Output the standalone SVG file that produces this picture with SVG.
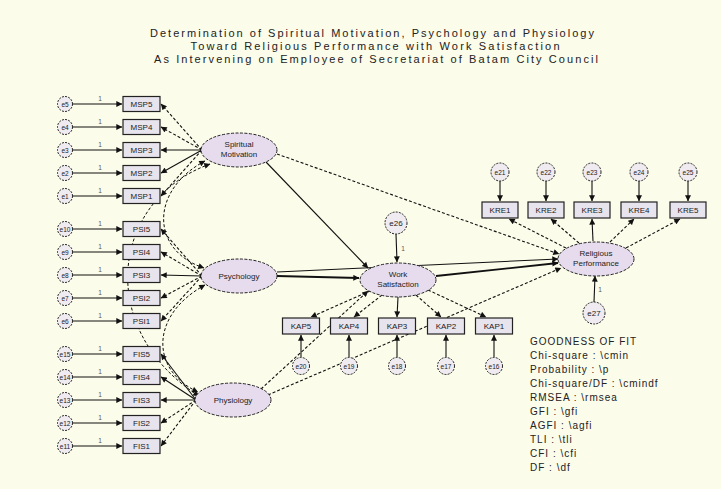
<svg xmlns="http://www.w3.org/2000/svg" width="721" height="489" viewBox="0 0 721 489">
<defs>
<marker id="ah" viewBox="0 0 10 10" refX="9.5" refY="5" markerWidth="7" markerHeight="6" markerUnits="userSpaceOnUse" orient="auto-start-reverse"><path d="M0,0 L10,5 L0,10 z" fill="#111"/></marker>
</defs>
<style>
text{font-family:"Liberation Sans",Arial,sans-serif;fill:#222}
.ttl{font-size:11px;text-anchor:middle}
.lbl{font-size:8px;text-anchor:middle}
.el{font-size:6.5px;text-anchor:middle}
.sm{font-size:6.5px;text-anchor:middle;fill:#555}
.fit{font-size:10px;letter-spacing:1px}
.err{fill:#efebf1;stroke:#222;stroke-width:1;stroke-dasharray:2 1.2}
.box{fill:#e8e4ed;stroke:#222;stroke-width:1.2}
.lat{fill:#e6dcee;stroke:#222;stroke-width:1;stroke-dasharray:3 1.5}
.c{stroke:#111;stroke-width:1.1;fill:none;marker-end:url(#ah)}
.d{stroke-dasharray:3 2}
.k{stroke-width:1.8}
.cov{stroke:#111;stroke-width:1;fill:none;stroke-dasharray:3 2;marker-start:url(#ah);marker-end:url(#ah)}
</style>
<rect width="721" height="489" fill="#fcfcea"/>
<g id="title">
<text class="ttl" x="372" y="37" textLength="444" lengthAdjust="spacing">Determination of Spiritual Motivation, Psychology and Physiology</text>
<text class="ttl" x="375" y="50" textLength="369" lengthAdjust="spacing">Toward Religious Performance with Work Satisfaction</text>
<text class="ttl" x="376" y="63" textLength="444" lengthAdjust="spacing">As Intervening on Employee of Secretariat of Batam City Council</text>
</g>
<g id="connectors">
<g class="errarrows">
<line class="c" x1="73" y1="104" x2="122" y2="104"/><line class="c" x1="73" y1="127" x2="122" y2="127"/><line class="c" x1="73" y1="150" x2="122" y2="150"/><line class="c" x1="73" y1="173" x2="122" y2="173"/><line class="c" x1="73" y1="196" x2="122" y2="196"/>
<line class="c" x1="73" y1="229" x2="122" y2="229"/><line class="c" x1="73" y1="252" x2="122" y2="252"/><line class="c" x1="73" y1="275" x2="122" y2="275"/><line class="c" x1="73" y1="298" x2="122" y2="298"/><line class="c" x1="73" y1="321" x2="122" y2="321"/>
<line class="c" x1="73" y1="354" x2="122" y2="354"/><line class="c" x1="73" y1="377" x2="122" y2="377"/><line class="c" x1="73" y1="400" x2="122" y2="400"/><line class="c" x1="73" y1="423" x2="122" y2="423"/><line class="c" x1="73" y1="446" x2="122" y2="446"/>
<line class="c" x1="500" y1="181" x2="500" y2="201"/><line class="c" x1="546" y1="181" x2="546" y2="201"/><line class="c" x1="592" y1="181" x2="592" y2="201"/><line class="c" x1="639" y1="181" x2="639" y2="201"/><line class="c" x1="688" y1="181" x2="688" y2="201"/>
<line class="c" x1="301" y1="357" x2="301" y2="335"/><line class="c" x1="349" y1="357" x2="349" y2="335"/><line class="c" x1="397" y1="357" x2="397" y2="335"/><line class="c" x1="446" y1="357" x2="446" y2="335"/><line class="c" x1="494" y1="357" x2="494" y2="335"/>
<line class="c" x1="396" y1="234" x2="397" y2="262"/>
<line class="c" x1="594" y1="302" x2="595" y2="276"/>
</g>
<g class="loadings">
<line class="c d" x1="202" y1="150" x2="161" y2="104"/><line class="c d" x1="202" y1="150" x2="161" y2="127"/><line class="c" x1="202" y1="150" x2="161" y2="150"/><line class="c" x1="202" y1="150" x2="161" y2="173"/><line class="c d" x1="202" y1="150" x2="161" y2="196"/>
<line class="c d" x1="202" y1="276" x2="161" y2="229"/><line class="c d" x1="202" y1="276" x2="161" y2="252"/><line class="c" x1="202" y1="276" x2="161" y2="275"/><line class="c d" x1="202" y1="276" x2="161" y2="298"/><line class="c d" x1="202" y1="276" x2="161" y2="321"/>
<line class="c" x1="196" y1="400" x2="161" y2="354"/><line class="c" x1="196" y1="400" x2="161" y2="377"/><line class="c" x1="196" y1="400" x2="161" y2="400"/><line class="c d" x1="196" y1="400" x2="161" y2="423"/><line class="c d" x1="196" y1="400" x2="161" y2="446"/>
<line class="c d" x1="566" y1="248" x2="509" y2="219"/><line class="c d" x1="579" y1="243" x2="551" y2="219"/><line class="c" x1="593" y1="241" x2="592" y2="219"/><line class="c d" x1="610" y1="242" x2="634" y2="219"/><line class="c d" x1="626" y1="248" x2="680" y2="219"/>
<line class="c d" x1="370" y1="291" x2="311" y2="317"/><line class="c d" x1="382" y1="295" x2="354" y2="317"/><line class="c" x1="398" y1="297" x2="397" y2="317"/><line class="c d" x1="416" y1="295" x2="441" y2="317"/><line class="c d" x1="428" y1="290" x2="486" y2="317"/>
</g>
<g class="paths">
<line class="c" x1="266" y1="162" x2="368" y2="268"/>
<line class="c d" x1="277" y1="154" x2="559" y2="254"/>
<line class="c k" x1="277" y1="276" x2="359" y2="278"/>
<line class="c" x1="277" y1="272" x2="558" y2="259"/>
<line class="c k" x1="436" y1="276" x2="558" y2="263"/>
<line class="c d" x1="261" y1="389" x2="368" y2="291"/>
<line class="c d" x1="268" y1="395" x2="561" y2="268"/>
</g>
<g class="covariances">
<path class="cov" d="M205,161 C150,190 150,250 204,268"/>
<path class="cov" d="M205,285 C150,315 150,370 198,392"/>
<path class="cov" d="M210,164 C110,200 95,330 199,396"/>
</g>
<g class="ones">
<text class="sm" x="100" y="101">1</text><text class="sm" x="100" y="124">1</text><text class="sm" x="100" y="147">1</text><text class="sm" x="100" y="170">1</text><text class="sm" x="100" y="193">1</text>
<text class="sm" x="100" y="226">1</text><text class="sm" x="100" y="249">1</text><text class="sm" x="100" y="272">1</text><text class="sm" x="100" y="295">1</text><text class="sm" x="100" y="318">1</text>
<text class="sm" x="100" y="351">1</text><text class="sm" x="100" y="374">1</text><text class="sm" x="100" y="397">1</text><text class="sm" x="100" y="420">1</text><text class="sm" x="100" y="443">1</text>
<text class="sm" x="403" y="251">1</text>
<text class="sm" x="600" y="292">1</text>
</g>
</g>
<g id="spiritual"><ellipse class="lat" cx="239" cy="150" rx="38" ry="17"/><text class="lbl" x="239" y="147">Spiritual</text><text class="lbl" x="239" y="157">Motivation</text></g>
<g id="psychology"><ellipse class="lat" cx="239" cy="276" rx="38" ry="17"/><text class="lbl" x="239" y="279">Psychology</text></g>
<g id="physiology"><ellipse class="lat" cx="233" cy="400" rx="38" ry="17"/><text class="lbl" x="233" y="403">Physiology</text></g>
<g id="worksat"><ellipse class="lat" cx="398" cy="280" rx="38" ry="17"/><text class="lbl" x="398" y="277">Work</text><text class="lbl" x="398" y="287">Satisfaction</text></g>
<g id="religious"><ellipse class="lat" cx="596" cy="259" rx="38" ry="17"/><text class="lbl" x="596" y="256">Religious</text><text class="lbl" x="596" y="266">Performance</text></g>
<g id="e26"><circle class="err" cx="396" cy="223" r="11"/><text class="lbl" x="396" y="226">e26</text></g>
<g id="e27"><circle class="err" cx="594" cy="313" r="11"/><text class="lbl" x="594" y="316">e27</text></g>
<g id="MSP5"><circle class="err" cx="65" cy="104" r="7.5"/><text class="el" x="65" y="106.5">e5</text><rect class="box" x="123" y="96.5" width="37" height="15"/><text class="lbl" x="141.5" y="107">MSP5</text></g>
<g id="MSP4"><circle class="err" cx="65" cy="127" r="7.5"/><text class="el" x="65" y="129.5">e4</text><rect class="box" x="123" y="119.5" width="37" height="15"/><text class="lbl" x="141.5" y="130">MSP4</text></g>
<g id="MSP3"><circle class="err" cx="65" cy="150" r="7.5"/><text class="el" x="65" y="152.5">e3</text><rect class="box" x="123" y="142.5" width="37" height="15"/><text class="lbl" x="141.5" y="153">MSP3</text></g>
<g id="MSP2"><circle class="err" cx="65" cy="173" r="7.5"/><text class="el" x="65" y="175.5">e2</text><rect class="box" x="123" y="165.5" width="37" height="15"/><text class="lbl" x="141.5" y="176">MSP2</text></g>
<g id="MSP1"><circle class="err" cx="65" cy="196" r="7.5"/><text class="el" x="65" y="198.5">e1</text><rect class="box" x="123" y="188.5" width="37" height="15"/><text class="lbl" x="141.5" y="199">MSP1</text></g>
<g id="PSI5"><circle class="err" cx="65" cy="229" r="7.5"/><text class="el" x="65" y="231.5">e10</text><rect class="box" x="123" y="221.5" width="37" height="15"/><text class="lbl" x="141.5" y="232">PSI5</text></g>
<g id="PSI4"><circle class="err" cx="65" cy="252" r="7.5"/><text class="el" x="65" y="254.5">e9</text><rect class="box" x="123" y="244.5" width="37" height="15"/><text class="lbl" x="141.5" y="255">PSI4</text></g>
<g id="PSI3"><circle class="err" cx="65" cy="275" r="7.5"/><text class="el" x="65" y="277.5">e8</text><rect class="box" x="123" y="267.5" width="37" height="15"/><text class="lbl" x="141.5" y="278">PSI3</text></g>
<g id="PSI2"><circle class="err" cx="65" cy="298" r="7.5"/><text class="el" x="65" y="300.5">e7</text><rect class="box" x="123" y="290.5" width="37" height="15"/><text class="lbl" x="141.5" y="301">PSI2</text></g>
<g id="PSI1"><circle class="err" cx="65" cy="321" r="7.5"/><text class="el" x="65" y="323.5">e6</text><rect class="box" x="123" y="313.5" width="37" height="15"/><text class="lbl" x="141.5" y="324">PSI1</text></g>
<g id="FIS5"><circle class="err" cx="65" cy="354" r="7.5"/><text class="el" x="65" y="356.5">e15</text><rect class="box" x="123" y="346.5" width="37" height="15"/><text class="lbl" x="141.5" y="357">FIS5</text></g>
<g id="FIS4"><circle class="err" cx="65" cy="377" r="7.5"/><text class="el" x="65" y="379.5">e14</text><rect class="box" x="123" y="369.5" width="37" height="15"/><text class="lbl" x="141.5" y="380">FIS4</text></g>
<g id="FIS3"><circle class="err" cx="65" cy="400" r="7.5"/><text class="el" x="65" y="402.5">e13</text><rect class="box" x="123" y="392.5" width="37" height="15"/><text class="lbl" x="141.5" y="403">FIS3</text></g>
<g id="FIS2"><circle class="err" cx="65" cy="423" r="7.5"/><text class="el" x="65" y="425.5">e12</text><rect class="box" x="123" y="415.5" width="37" height="15"/><text class="lbl" x="141.5" y="426">FIS2</text></g>
<g id="FIS1"><circle class="err" cx="65" cy="446" r="7.5"/><text class="el" x="65" y="448.5">e11</text><rect class="box" x="123" y="438.5" width="37" height="15"/><text class="lbl" x="141.5" y="449">FIS1</text></g>
<g id="KRE1"><circle class="err" cx="500" cy="172" r="9"/><text class="el" x="500" y="174.5">e21</text><rect class="box" x="482" y="202" width="36" height="16"/><text class="lbl" x="500" y="213">KRE1</text></g>
<g id="KRE2"><circle class="err" cx="546" cy="172" r="9"/><text class="el" x="546" y="174.5">e22</text><rect class="box" x="528" y="202" width="36" height="16"/><text class="lbl" x="546" y="213">KRE2</text></g>
<g id="KRE3"><circle class="err" cx="592" cy="172" r="9"/><text class="el" x="592" y="174.5">e23</text><rect class="box" x="574" y="202" width="36" height="16"/><text class="lbl" x="592" y="213">KRE3</text></g>
<g id="KRE4"><circle class="err" cx="639" cy="172" r="9"/><text class="el" x="639" y="174.5">e24</text><rect class="box" x="621" y="202" width="36" height="16"/><text class="lbl" x="639" y="213">KRE4</text></g>
<g id="KRE5"><circle class="err" cx="688" cy="172" r="9"/><text class="el" x="688" y="174.5">e25</text><rect class="box" x="670" y="202" width="36" height="16"/><text class="lbl" x="688" y="213">KRE5</text></g>
<g id="KAP5"><rect class="box" x="282.5" y="318" width="37" height="16"/><text class="lbl" x="301" y="329">KAP5</text><circle class="err" cx="301" cy="366" r="8.5"/><text class="el" x="301" y="368.5">e20</text></g>
<g id="KAP4"><rect class="box" x="330.5" y="318" width="37" height="16"/><text class="lbl" x="349" y="329">KAP4</text><circle class="err" cx="349" cy="366" r="8.5"/><text class="el" x="349" y="368.5">e19</text></g>
<g id="KAP3"><rect class="box" x="378.5" y="318" width="37" height="16"/><text class="lbl" x="397" y="329">KAP3</text><circle class="err" cx="397" cy="366" r="8.5"/><text class="el" x="397" y="368.5">e18</text></g>
<g id="KAP2"><rect class="box" x="427.5" y="318" width="37" height="16"/><text class="lbl" x="446" y="329">KAP2</text><circle class="err" cx="446" cy="366" r="8.5"/><text class="el" x="446" y="368.5">e17</text></g>
<g id="KAP1"><rect class="box" x="475.5" y="318" width="37" height="16"/><text class="lbl" x="494" y="329">KAP1</text><circle class="err" cx="494" cy="366" r="8.5"/><text class="el" x="494" y="368.5">e16</text></g>
<g id="fit">
<text class="fit" x="530" y="345">GOODNESS OF FIT</text>
<text class="fit" x="530" y="359">Chi-square : \cmin</text>
<text class="fit" x="530" y="373">Probability : \p</text>
<text class="fit" x="530" y="387">Chi-square/DF : \cmindf</text>
<text class="fit" x="530" y="401">RMSEA : \rmsea</text>
<text class="fit" x="530" y="415">GFI : \gfi</text>
<text class="fit" x="530" y="429">AGFI : \agfi</text>
<text class="fit" x="530" y="443">TLI : \tli</text>
<text class="fit" x="530" y="457">CFI : \cfi</text>
<text class="fit" x="530" y="471">DF : \df</text>
</g>
</svg>
